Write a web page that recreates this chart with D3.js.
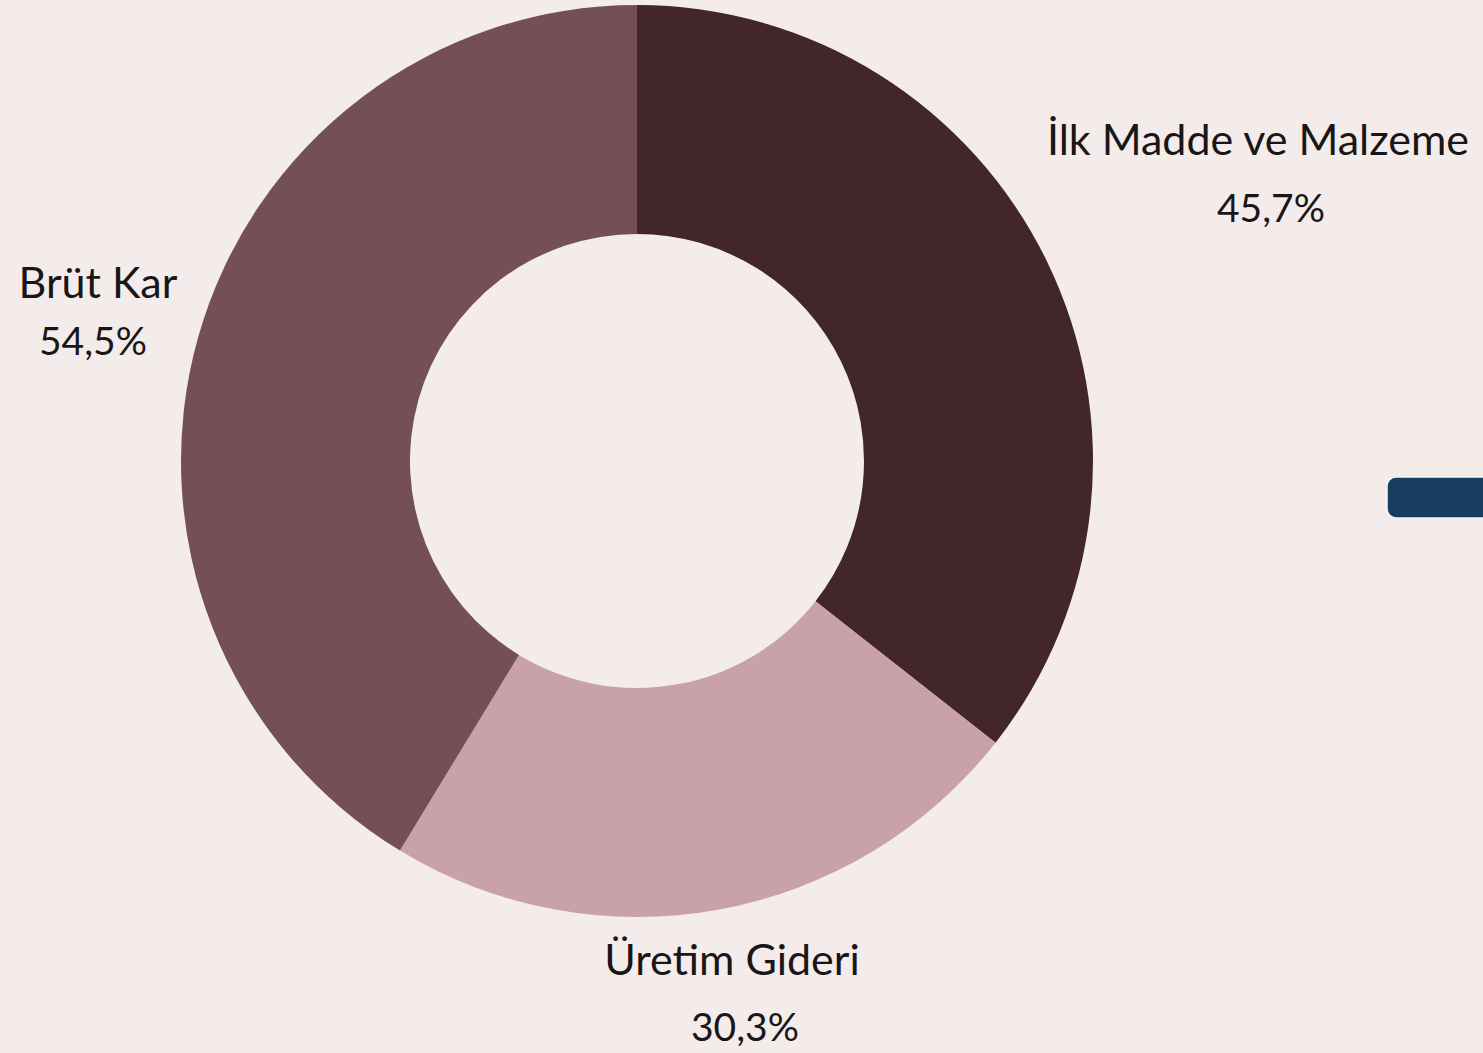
<!DOCTYPE html>
<html>
<head>
<meta charset="utf-8">
<script src="https://cdn.jsdelivr.net/npm/d3@7"></script>
<style>
  html, body { margin: 0; padding: 0; background: #f3ecea; overflow: hidden; }
  svg { display: block; }
</style>
</head>
<body>
<svg id="chart" width="1483" height="1053"></svg>
<script>
// slice data, in drawing order (clockwise from 12 o'clock)
var categories = ["İlk Madde ve Malzeme", "Üretim Gideri", "Brüt Kar"];
// slice shares as read off the ring (the printed labels don't add up to 100)
var shares     = [35.6, 23.1, 41.3];
var labels     = ["45,7%", "30,3%", "54,5%"];
var colors     = ["#42262c", "#c9a1aa", "#744f57"];

// label anchor points (name baseline, value baseline)
var labelPos = [
    {x: 1258, y: 155, vx: 1271, vy: 222},
    {x: 732,  y: 975, vx: 745,  vy: 1041},
    {x: 98,   y: 298, vx: 93,   vy: 355}
];

var svg = d3.select("#chart");
var W = +svg.attr("width"), H = +svg.attr("height");

svg.append("rect")
    .attr("width", W).attr("height", H)
    .attr("fill", "#f3ecea");

var cx = 637, cy = 461;
var outerR = 456, innerR = 227;

var pie = d3.pie().sort(null).value(function(d){ return d; });
var arc = d3.arc().innerRadius(innerR).outerRadius(outerR);

var g = svg.append("g")
    .attr("transform", "translate(" + cx + "," + cy + ")");

g.selectAll("path")
    .data(pie(shares))
    .enter().append("path")
        .attr("d", arc)
        .attr("fill", function(d, i){ return colors[i]; });

// labels
var lg = svg.append("g")
    .attr("font-family", "Lato, 'Open Sans', sans-serif")
    .attr("fill", "#1a1617")
    .attr("text-anchor", "middle");

categories.forEach(function(c, i){
    lg.append("text")
        .attr("x", labelPos[i].x).attr("y", labelPos[i].y)
        .attr("font-size", 43)
        .text(c);
    lg.append("text")
        .attr("x", labelPos[i].vx).attr("y", labelPos[i].vy)
        .attr("font-size", 39)
        .text(labels[i]);
});

// cut-off bar at the right edge
svg.append("rect")
    .attr("x", 1387).attr("y", 477)
    .attr("width", 120).attr("height", 41)
    .attr("rx", 9)
    .attr("fill", "#173d5f")
    .attr("stroke", "#f8f4f3")
    .attr("stroke-width", 1.5);
</script>
</body>
</html>
